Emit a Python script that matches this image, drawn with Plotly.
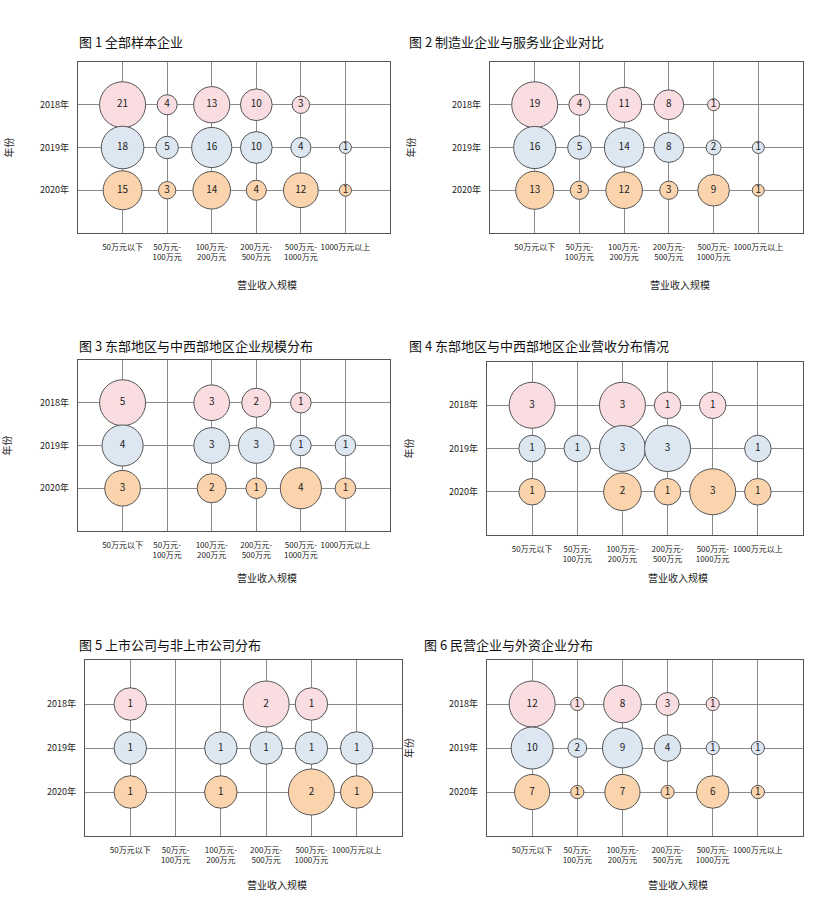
import plotly.graph_objects as go

W, H = 813, 901
FONT = "Noto Sans CJK SC"

years = ["2020年", "2019年", "2018年"]          # bottom -> top
rows_top_to_bottom = ["2018年", "2019年", "2020年"]
x_cats = ["50万元以下", "50万元-<br>100万元", "100万元-<br>200万元",
          "200万元-<br>500万元", "500万元-<br>1000万元", "1000万元以上"]

titles = ["图 1 全部样本企业",
          "图 2 制造业企业与服务业企业对比",
          "图 3 东部地区与中西部地区企业规模分布",
          "图 4 东部地区与中西部地区企业营收分布情况",
          "图 5 上市公司与非上市公司分布",
          "图 6 民营企业与外资企业分布"]
x_title = "营业收入规模"
y_title = "年份"

# values per chart: row 2018 (pink), 2019 (blue), 2020 (orange); None = no bubble
chart1 = {"2018年": [21, 4, 13, 10, 3, None],
          "2019年": [18, 5, 16, 10, 4, 1],
          "2020年": [15, 3, 14, 4, 12, 1]}
chart2 = {"2018年": [19, 4, 11, 8, 1, None],
          "2019年": [16, 5, 14, 8, 2, 1],
          "2020年": [13, 3, 12, 3, 9, 1]}
chart3 = {"2018年": [5, None, 3, 2, 1, None],
          "2019年": [4, None, 3, 3, 1, 1],
          "2020年": [3, None, 2, 1, 4, 1]}
chart4 = {"2018年": [3, None, 3, 1, 1, None],
          "2019年": [1, 1, 3, 3, None, 1],
          "2020年": [1, None, 2, 1, 3, 1]}
chart5 = {"2018年": [1, None, None, 2, 1, None],
          "2019年": [1, None, 1, 1, 1, 1],
          "2020年": [1, None, 1, None, 2, 1]}
chart6 = {"2018年": [12, 1, 8, 3, 1, None],
          "2019年": [10, 2, 9, 4, 1, 1],
          "2020年": [7, 1, 7, 1, 6, 1]}
charts = [chart1, chart2, chart3, chart4, chart5, chart6]

row_colors = {"2018年": "#f9dde0", "2019年": "#dce7f2", "2020年": "#fbd4ad"}
MAXD = 46

# subplot boxes in pixels: (left, right, top, bottom)
boxes = [(78, 390, 62, 233), (490, 803, 62, 233),
         (78, 390, 360, 531), (487, 803, 362, 535),
         (85, 402, 660, 836), (487, 803, 660, 836)]
title_pos = [(77, 42), (407, 42), (77, 345), (407, 345), (77, 644), (422, 644)]
xtitle_y = [284, 284, 577, 577, 884, 884]
ytitle_x = [8, 410, 6, 408, None, 408]

fig = go.Figure()
annotations = []

for i, (data, box) in enumerate(zip(charts, boxes)):
    l, r, t, b = box
    ax = "" if i == 0 else str(i + 1)
    vmax = max(v for row in data.values() for v in row if v is not None)
    sizeref = 2.0 * vmax / MAXD ** 2
    for yr in rows_top_to_bottom:
        xs, ys, ss, tx = [], [], [], []
        for xc, v in zip(x_cats, data[yr]):
            if v is None:
                continue
            xs.append(xc); ys.append(yr); ss.append(v); tx.append(str(v))
        fig.add_trace(go.Scatter(
            x=xs, y=ys, mode="markers+text", text=tx,
            textposition="middle center",
            textfont=dict(family=FONT, size=10, color="#222"),
            marker=dict(size=ss, sizemode="area", sizeref=sizeref, sizemin=6,
                        color=row_colors[yr], opacity=1,
                        line=dict(color="#555", width=1)),
            xaxis="x" + ax, yaxis="y" + ax, showlegend=False,
            cliponaxis=False, hoverinfo="skip"))
    xa = dict(domain=[l / W, r / W], anchor="y" + ax, type="category",
              categoryorder="array", categoryarray=x_cats, range=[-1, 6],
              showgrid=True, gridcolor="#8a8a8a", gridwidth=1,
              showline=True, linecolor="#555", linewidth=1.2, mirror=True,
              ticks="", ticklabelstandoff=6,
              tickfont=dict(family=FONT, size=8, color="#222"),
              tickangle=0, fixedrange=True)
    ya = dict(domain=[1 - b / H, 1 - t / H], anchor="x" + ax, type="category",
              categoryorder="array", categoryarray=years, range=[-1, 3],
              showgrid=True, gridcolor="#8a8a8a", gridwidth=1,
              showline=True, linecolor="#555", linewidth=1.2, mirror=True,
              ticks="", ticklabelstandoff=6,
              tickfont=dict(family=FONT, size=9, color="#222"), fixedrange=True)
    fig.layout["xaxis" + ax] = xa
    fig.layout["yaxis" + ax] = ya

    tx_, ty_ = title_pos[i]
    annotations.append(dict(text=titles[i], xref="paper", yref="paper",
                            x=tx_ / W, y=1 - ty_ / H, xanchor="left", yanchor="middle",
                            showarrow=False,
                            font=dict(family=FONT, size=13, color="#111")))
    annotations.append(dict(text=x_title, xref="paper", yref="paper",
                            x=((l + r) / 2 + 33) / W, y=1 - xtitle_y[i] / H,
                            xanchor="center", yanchor="middle", showarrow=False,
                            font=dict(family=FONT, size=10, color="#222")))
    if ytitle_x[i] is not None:
        annotations.append(dict(text=y_title, xref="paper", yref="paper",
                                x=ytitle_x[i] / W, y=1 - ((t + b) / 2) / H,
                                xanchor="center", yanchor="middle", textangle=-90,
                                showarrow=False,
                                font=dict(family=FONT, size=10, color="#222")))

fig.update_layout(width=W, height=H, margin=dict(l=0, r=0, t=0, b=0),
                  paper_bgcolor="white", plot_bgcolor="white",
                  annotations=annotations, showlegend=False,
                  font=dict(family=FONT))
fig.write_html("out.html")
